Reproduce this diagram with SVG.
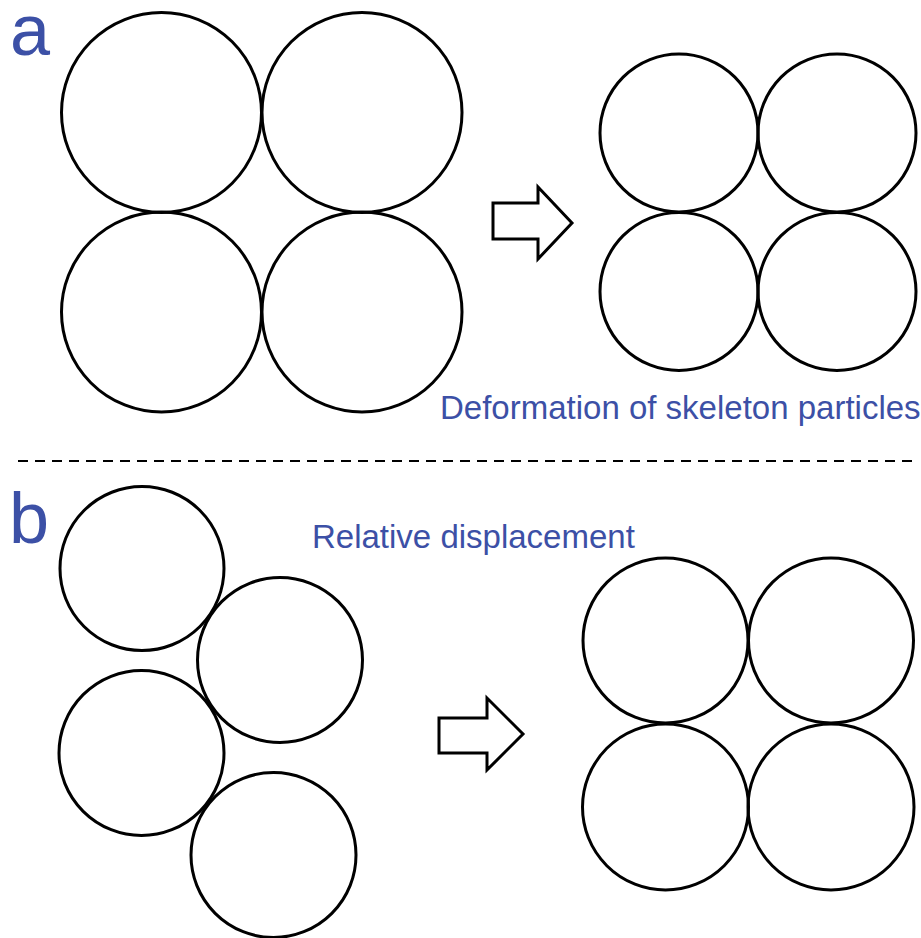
<svg xmlns="http://www.w3.org/2000/svg" width="921" height="938" viewBox="0 0 921 938">
<style>
.p{fill:none;stroke:#000;stroke-width:3}
.ar{fill:#fff;stroke:#000;stroke-width:3;stroke-linejoin:miter}
.lab{font-family:"Liberation Sans",Arial,sans-serif;fill:#3c50a6}
</style>
<rect width="921" height="938" fill="#fff"/>
<text class="lab" x="10" y="55" font-size="72">a</text>
<text class="lab" x="9" y="543" font-size="72">b</text>
<g id="a-before">
<circle class="p" cx="161.5" cy="112.5" r="100"/>
<circle class="p" cx="362" cy="112.5" r="100"/>
<circle class="p" cx="161.5" cy="312" r="100"/>
<circle class="p" cx="362" cy="312" r="100"/>
</g>
<g id="a-after">
<circle class="p" cx="679" cy="133" r="79"/>
<circle class="p" cx="837" cy="133" r="79"/>
<circle class="p" cx="679" cy="291.5" r="79"/>
<circle class="p" cx="837" cy="291.5" r="79"/>
</g>
<g id="connectors">
<polygon class="ar" points="493,203 538,203 538,187 572,223 538,259 538,239 493,239"/>
<polygon class="ar" points="439,718 487,718 487,698 523,734 487,770 487,753 439,753"/>
</g>
<text class="lab" x="440" y="419" font-size="33">Deformation of skeleton particles</text>
<line x1="18" y1="461" x2="912" y2="461" stroke="#000" stroke-width="2" stroke-dasharray="10,7"/>
<text class="lab" x="312" y="548" font-size="33">Relative displacement</text>
<g id="b-before">
<circle class="p" cx="142" cy="568.5" r="82"/>
<circle class="p" cx="280" cy="660" r="82.5"/>
<circle class="p" cx="141.5" cy="753" r="82.5"/>
<circle class="p" cx="273.5" cy="855" r="82.5"/>
</g>
<g id="b-after">
<circle class="p" cx="665.5" cy="640.5" r="82.5"/>
<circle class="p" cx="831" cy="640.5" r="82.5"/>
<circle class="p" cx="665.5" cy="807" r="83"/>
<circle class="p" cx="831" cy="807" r="83"/>
</g>
</svg>
